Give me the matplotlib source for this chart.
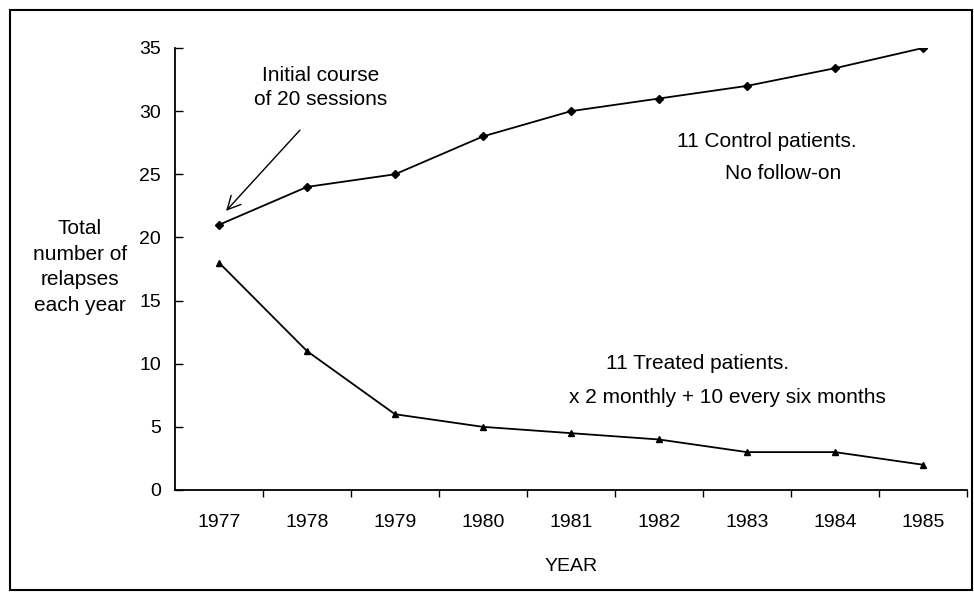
import matplotlib
matplotlib.use("Agg")
import matplotlib.pyplot as plt
from matplotlib.patches import Rectangle

# data
years = ["1977", "1978", "1979", "1980", "1981", "1982", "1983", "1984", "1985"]
control = [21, 24, 25, 28, 30, 31, 32, 33.4, 35]
treated = [18, 11, 6, 5, 4.5, 4, 3, 3, 2]
y_ticks = [0, 5, 10, 15, 20, 25, 30, 35]

plt.rcParams['font.family'] = ['Liberation Sans', 'DejaVu Sans']

fig = plt.figure(figsize=(9.74, 5.92), dpi=100)
ax = fig.add_axes([175 / 974, 1 - 490 / 592, 792 / 974, 442 / 592])

x = list(range(len(years)))
ax.plot(x, control, color='black', lw=1.3, marker='D', ms=4)
ax.plot(x, treated, color='black', lw=1.3, marker='^', ms=5)

ax.set_xlim(-0.5, len(years) - 0.5)
ax.set_ylim(0, 35)
ax.set_yticks(y_ticks)
ax.tick_params(axis='y', direction='in', length=6, width=1, labelsize=14, pad=10)

# category axis: ticks on boundaries, labels centred
ax.set_xticks([i + 0.5 for i in range(len(years))])
ax.set_xticklabels([])
ax.set_xticks(x, minor=True)
ax.set_xticklabels(years, minor=True, fontsize=14)
ax.tick_params(axis='x', which='major', direction='out', length=5, width=1)
ax.tick_params(axis='x', which='minor', length=0, pad=17)

for s in ['top', 'right']:
    ax.spines[s].set_visible(False)
ax.spines['left'].set_linewidth(1.3)
ax.spines['bottom'].set_linewidth(1.3)

ax.set_xlabel('YEAR', fontsize=14, labelpad=20)
fig.text(80 / 974, 1 - 267 / 592, 'Total\nnumber of\nrelapses\neach year',
         ha='center', va='center', fontsize=15, linespacing=1.45)

ax.text(1.15, 31.9, 'Initial course\nof 20 sessions', ha='center', va='center',
        fontsize=15, linespacing=1.35)
ax.annotate('', xy=(0.08, 22.1), xytext=(0.92, 28.5),
            arrowprops=dict(arrowstyle='->', color='black', lw=1,
                            shrinkA=0, shrinkB=0, mutation_scale=24))

ax.text(6.23, 27.6, '11 Control patients.', ha='center', va='center', fontsize=15)
ax.text(6.41, 25.1, 'No follow-on', ha='center', va='center', fontsize=15)
ax.text(5.44, 10.0, '11 Treated patients.', ha='center', va='center', fontsize=15)
ax.text(5.78, 7.3, 'x 2 monthly + 10 every six months', ha='center', va='center', fontsize=15)

fig.patches.append(Rectangle((10 / 974, 2 / 592), 962 / 974, 580 / 592,
                             transform=fig.transFigure, fill=False,
                             edgecolor='black', lw=1.5))

fig.savefig('out.png', dpi=100)
